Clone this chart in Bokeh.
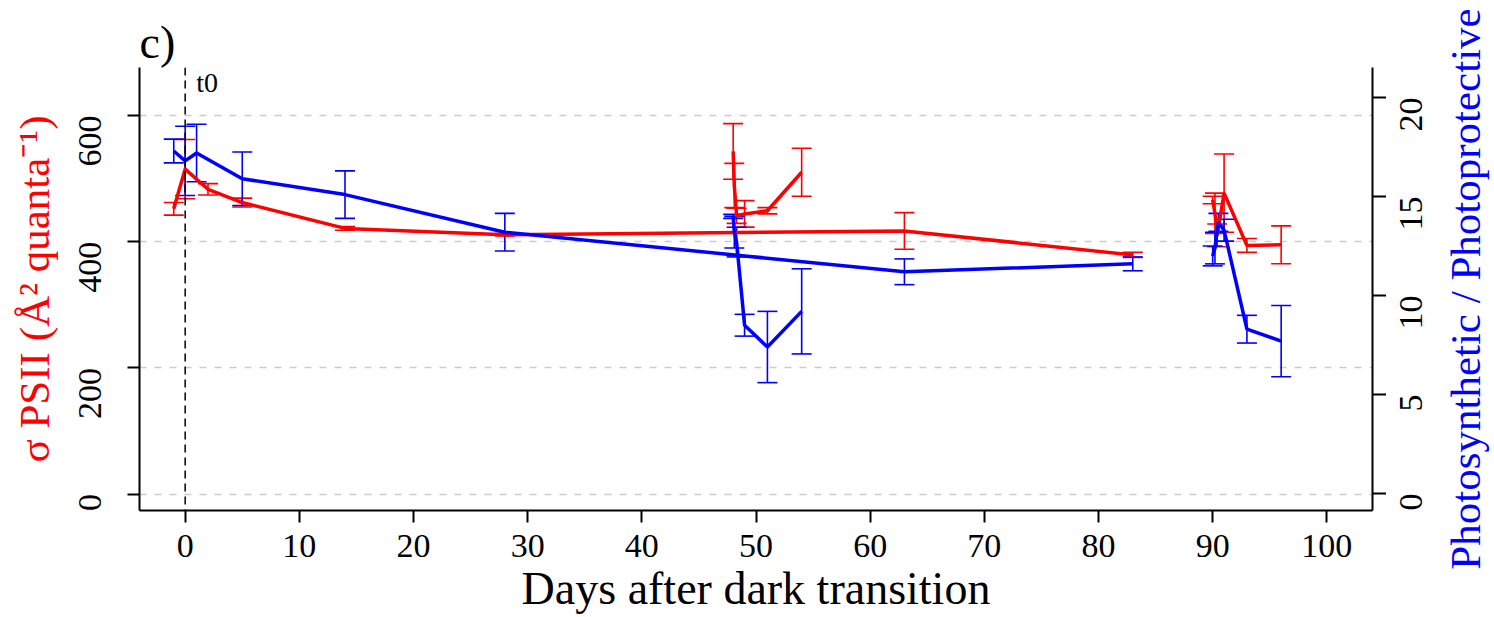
import math
from bokeh.plotting import figure
from bokeh.layouts import row
from bokeh.models import (Range1d, LinearAxis, FixedTicker, Whisker, TeeHead,
                          ColumnDataSource, Span, Label)
from bokeh.embed import file_html
from bokeh.resources import INLINE

# ---------------- data ----------------
red_main_days = [-1, 0, 2, 5, 14, 28, 63, 83]
red_main_vals = [452, 515, 483, 462, 421, 411, 417, 379]
red_main_err = [10, 47, 9, 7, 3, 2, 29, 4]

red_48_days = [48.0, 48.1, 48.3, 49, 51, 54]
red_48_vals = [543, 489, 441, 444, 449, 510]
red_48_err = [44, 35, 12, 21, 5, 38]

red_90_days = [90.0, 90.2, 90.4, 91, 93, 96]
red_90_vals = [466, 445, 410, 477, 394, 395]
red_90_err = [6, 32, 18, 62, 11, 30]

blue_main_days = [-1, 0, 1, 5, 14, 28, 63, 83]
blue_main_vals = [17.3, 16.8, 17.2, 15.9, 15.1, 13.2, 11.2, 11.6]
blue_main_err = [0.6, 1.75, 1.45, 1.35, 1.2, 0.95, 0.65, 0.35]

blue_48_days = [48.0, 48.1, 48.3, 49, 51, 54]
blue_48_vals = [14.0, 13.2, 12.7, 8.5, 7.4, 9.2]
blue_48_err = [0.1, 0.8, 0.75, 0.55, 1.8, 2.15]

blue_90_days = [90.0, 90.2, 90.5, 91, 93, 96]
blue_90_vals = [12.0, 12.4, 13.7, 13.3, 8.3, 7.7]
blue_90_err = [0.5, 0.8, 0.45, 0.55, 0.7, 1.8]

x_ticks = [0, 10, 20, 30, 40, 50, 60, 70, 80, 90, 100]
left_ticks = [0, 200, 400, 600]
right_ticks = [0, 5, 10, 15, 20]

x_title = "Days after dark transition"
left_title = "σ PSII (Å² quanta⁻¹)"
right_title = "Photosynthetic / Photoprotective"

FONT = "Liberation Serif"
RED = "#FF0000"
BLUE = "#0000FF"

# ---------------- layout constants ----------------
W_MAIN, W_SIDE, H = 1386, 108, 617
B_LEFT, B_RIGHT, B_TOP, B_BOTTOM = 139, 14, 67, 107

right_range = Range1d(-0.86, 21.52)

p = figure(width=W_MAIN, height=H, output_backend="svg", toolbar_location=None,
           x_range=Range1d(-4, 104), y_range=Range1d(-26, 676),
           min_border_left=B_LEFT, min_border_right=B_RIGHT,
           min_border_top=B_TOP, min_border_bottom=B_BOTTOM)
p.extra_y_ranges = {"right": right_range}
p.outline_line_color = None
p.background_fill_color = "white"
p.border_fill_color = "white"

# title
p.title.text = "c)"
p.title.text_font = FONT
p.title.text_font_size = "46px"
p.title.text_font_style = "normal"
p.title.text_color = "black"
p.title.align = "left"
p.title.standoff = 0

def style_axis(ax, size="34px"):
    ax.axis_line_width = 2
    ax.axis_line_color = "black"
    ax.major_tick_line_width = 2
    ax.major_tick_line_color = "black"
    ax.major_tick_out = 12
    ax.major_tick_in = 0
    ax.minor_tick_line_color = None
    ax.major_label_text_font = FONT
    ax.major_label_text_font_size = size
    ax.major_label_text_color = "black"
    ax.axis_label_text_font = FONT
    ax.axis_label_text_font_style = "normal"
    ax.axis_label_text_color = "black"

# x axis
xa = p.xaxis[0]
style_axis(xa)
xa.ticker = FixedTicker(ticks=x_ticks)
xa.major_label_standoff = 12
xa.axis_label = x_title
xa.axis_label_text_font_size = "46px"
xa.axis_label_standoff = 3

# left axis
ya = p.yaxis[0]
style_axis(ya)
ya.ticker = FixedTicker(ticks=left_ticks)
ya.major_label_orientation = math.pi / 2
ya.major_label_standoff = 37
ya.axis_label = left_title
ya.axis_label_text_color = RED
ya.axis_label_text_font_size = "43px"
ya.axis_label_standoff = 8

# right axis: line and ticks only (labels drawn by the side panel)
ra = LinearAxis(y_range_name="right", ticker=FixedTicker(ticks=right_ticks))
style_axis(ra)
ra.major_tick_out = 14
ra.major_label_standoff = 0
ra.major_label_overrides = {t: "" for t in right_ticks}
p.add_layout(ra, "right")

# grid
p.xgrid.visible = False
p.ygrid.ticker = FixedTicker(ticks=left_ticks)
p.ygrid.grid_line_color = "#cccccc"
p.ygrid.grid_line_width = 1.5
p.ygrid.grid_line_dash = "7 8"

# t0 marker
p.add_layout(Span(location=0, dimension="height", line_color="black",
                  line_width=1.5, line_dash="8 5"))
p.add_layout(Label(x=0, y=652, text="t0", x_offset=11, text_baseline="middle",
                   text_font=FONT, text_font_size="28px", text_color="black"))

def series(days, vals, errs, color, rname=None):
    src = ColumnDataSource(dict(x=days, y=vals,
                                lo=[v - e for v, e in zip(vals, errs)],
                                hi=[v + e for v, e in zip(vals, errs)]))
    kw = {}
    if rname:
        kw["y_range_name"] = rname
    w = Whisker(source=src, base="x", lower="lo", upper="hi",
                line_color=color, line_width=1.6,
                upper_head=TeeHead(size=20, line_color=color, line_width=1.6),
                lower_head=TeeHead(size=20, line_color=color, line_width=1.6),
                **kw)
    p.add_layout(w)
    p.line("x", "y", source=src, line_color=color, line_width=3.5, **kw)

series(red_main_days, red_main_vals, red_main_err, RED)
series(red_48_days, red_48_vals, red_48_err, RED)
series(red_90_days, red_90_vals, red_90_err, RED)
series(blue_main_days, blue_main_vals, blue_main_err, BLUE, "right")
series(blue_48_days, blue_48_vals, blue_48_err, BLUE, "right")
series(blue_90_days, blue_90_vals, blue_90_err, BLUE, "right")

# ---------------- side panel: right tick labels and right title ----------------
s = figure(width=W_SIDE, height=H, output_backend="svg", toolbar_location=None,
           x_range=Range1d(0, 1), y_range=right_range,
           x_axis_type=None, y_axis_type=None,
           min_border_left=101, min_border_right=0,
           min_border_top=B_TOP, min_border_bottom=B_BOTTOM)
s.outline_line_color = None
s.background_fill_color = "white"
s.border_fill_color = "white"
s.grid.visible = False

ax_title = LinearAxis(ticker=FixedTicker(ticks=[]))
ax_title.axis_line_color = None
ax_title.major_tick_line_color = None
ax_title.minor_tick_line_color = None
ax_title.major_tick_out = 0
ax_title.major_tick_in = 0
ax_title.major_label_standoff = 0
ax_title.axis_label = right_title
ax_title.axis_label_standoff = 0
ax_title.axis_label_text_font = FONT
ax_title.axis_label_text_font_style = "normal"
ax_title.axis_label_text_font_size = "43px"
ax_title.axis_label_text_color = BLUE
s.add_layout(ax_title, "left")

ax_nums = LinearAxis(ticker=FixedTicker(ticks=right_ticks))
ax_nums.axis_line_color = None
ax_nums.major_tick_line_color = None
ax_nums.minor_tick_line_color = None
ax_nums.major_tick_out = 0
ax_nums.major_tick_in = 0
ax_nums.major_label_standoff = 27
ax_nums.major_label_orientation = math.pi / 2
ax_nums.major_label_text_font = FONT
ax_nums.major_label_text_font_size = "34px"
ax_nums.major_label_text_color = "black"
s.add_layout(ax_nums, "left")

layout = row(p, s, spacing=0)
open("out.html", "w").write(file_html(layout, INLINE))
